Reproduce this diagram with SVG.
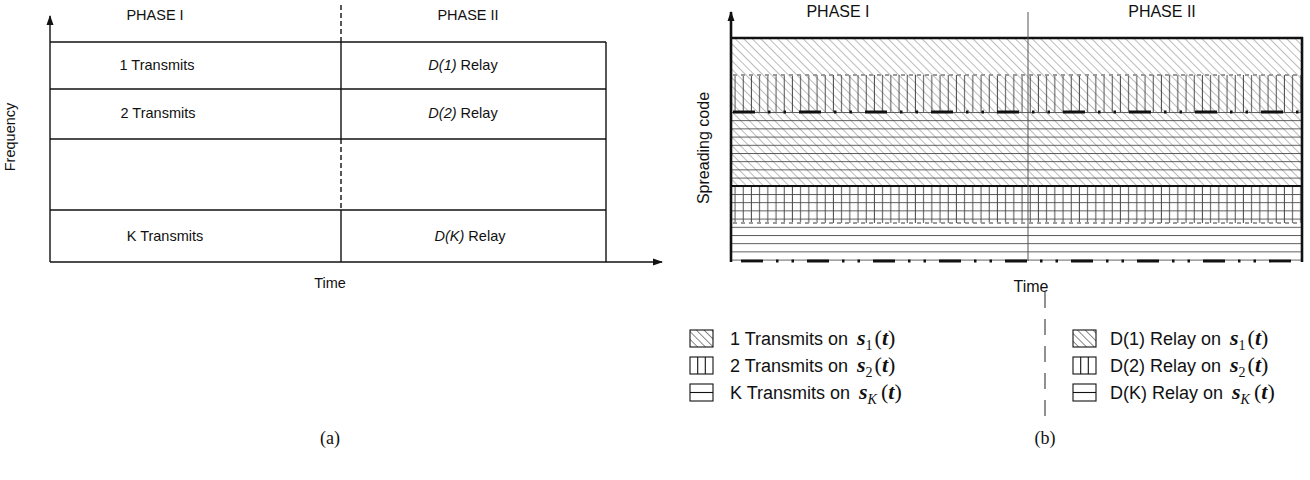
<svg xmlns="http://www.w3.org/2000/svg" width="1310" height="480" viewBox="0 0 1310 480">
<style>
.sans{font-family:"Liberation Sans",Arial,sans-serif;fill:#111}
.a{font-size:14.5px}
.b{font-size:16px}
.lg{font-size:18px}
.ser{font-family:"Liberation Serif","Times New Roman",serif;fill:#111}
.m{font-size:22px}
.sub{font-size:14px}
.mi{font-style:italic;font-weight:bold}
.ln{stroke:#111;stroke-width:1.4;fill:none}
.thick{stroke:#111;stroke-width:2.6;fill:none}
.gdash{stroke:#9a9a9a;stroke-width:2;stroke-dasharray:4 4;fill:none}
.dd{stroke:#111;stroke-width:2.8;stroke-dasharray:22 13 2.5 13 2.5 13;fill:none}
.ic{fill:none;stroke:#111;stroke-width:1.1}
.icd{fill:url(#diagL);stroke:#111;stroke-width:1.1}
</style>
<defs>
<pattern id="diag" patternUnits="userSpaceOnUse" width="6" height="6" patternTransform="rotate(-45)">
<line x1="0" y1="-1" x2="0" y2="7" stroke="#7a7a7a" stroke-width="1"/>
</pattern>
<pattern id="vert" patternUnits="userSpaceOnUse" x="731" y="0" width="8.2" height="10">
<line x1="4" y1="0" x2="4" y2="10" stroke="#333" stroke-width="0.9"/>
</pattern>
<pattern id="horz" patternUnits="userSpaceOnUse" x="0" y="112" width="10" height="8.2">
<line x1="0" y1="0.5" x2="10" y2="0.5" stroke="#444" stroke-width="0.9"/>
</pattern>
<pattern id="diagL" patternUnits="userSpaceOnUse" width="5.5" height="5.5" patternTransform="rotate(-45)">
<line x1="0" y1="-1" x2="0" y2="7" stroke="#111" stroke-width="1"/>
</pattern>
<marker id="ah" viewBox="0 0 10 10" refX="9" refY="5" markerWidth="10" markerHeight="10" markerUnits="userSpaceOnUse" orient="auto">
<path d="M0,1.5 L10,5 L0,8.5 Z" fill="#111"/>
</marker>
</defs>

<!-- ============ (a) ============ -->
<g id="a-axes">
<line class="ln" x1="50" y1="262" x2="50" y2="16" marker-end="url(#ah)"/>
<line class="ln" x1="50" y1="262" x2="662" y2="262" marker-end="url(#ah)"/>
</g>
<g id="a-grid">
<line class="ln" x1="50" y1="42" x2="606" y2="42"/>
<line class="ln" x1="50" y1="89" x2="606" y2="89"/>
<line class="ln" x1="50" y1="139" x2="606" y2="139"/>
<line class="ln" x1="50" y1="210" x2="606" y2="210"/>
<line class="ln" x1="606" y1="42" x2="606" y2="262"/>
<line class="ln" x1="341" y1="5" x2="341" y2="42" stroke-dasharray="5 3" stroke-width="1.7"/>
<line class="ln" x1="341" y1="42" x2="341" y2="139"/>
<line class="ln" x1="341" y1="139" x2="341" y2="210" stroke-dasharray="5 3" stroke-width="1.7"/>
<line class="ln" x1="341" y1="210" x2="341" y2="262"/>
</g>
<g id="a-labels">
<text class="sans a" x="155" y="20" text-anchor="middle">PHASE I</text>
<text class="sans a" x="468" y="20" text-anchor="middle">PHASE II</text>
<text class="sans a" x="15" y="137" text-anchor="middle" transform="rotate(-90 15 137)">Frequency</text>
<text class="sans a" x="330" y="288" text-anchor="middle">Time</text>
</g>
<g id="a-cell-1t"><text class="sans a" x="157" y="70" text-anchor="middle">1 Transmits</text></g>
<g id="a-cell-1r"><text class="sans a" x="463" y="70" text-anchor="middle"><tspan font-style="italic">D(1)</tspan> Relay</text></g>
<g id="a-cell-2t"><text class="sans a" x="158" y="118" text-anchor="middle">2 Transmits</text></g>
<g id="a-cell-2r"><text class="sans a" x="463" y="118" text-anchor="middle"><tspan font-style="italic">D(2)</tspan> Relay</text></g>
<g id="a-cell-kt"><text class="sans a" x="165" y="241" text-anchor="middle">K Transmits</text></g>
<g id="a-cell-kr"><text class="sans a" x="470" y="241" text-anchor="middle"><tspan font-style="italic">D(K)</tspan> Relay</text></g>
<text class="ser" x="330" y="444" font-size="18" text-anchor="middle">(a)</text>

<!-- ============ (b) ============ -->
<g id="b-fills">
<rect x="731" y="38" width="571" height="148" fill="url(#diag)"/>
<rect x="731" y="75" width="571" height="37" fill="url(#vert)"/>
<rect x="731" y="186" width="571" height="37" fill="url(#vert)"/>
<rect x="731" y="112" width="571" height="149" fill="url(#horz)"/>
</g>
<g id="b-bounds">
<line class="gdash" x1="733" y1="75" x2="1300" y2="75"/>
<line class="gdash" x1="733" y1="223" x2="1300" y2="223"/>
<line class="dd" x1="733" y1="112" x2="1300" y2="112"/>
<line class="dd" x1="733" y1="261" x2="1300" y2="261" stroke-dashoffset="-8"/>
<line stroke="#111" stroke-width="1.8" x1="731" y1="186" x2="1302" y2="186"/>
<line class="thick" x1="730" y1="38" x2="1303" y2="38"/>
<line class="thick" x1="1302" y1="37" x2="1302" y2="262"/>
<line stroke="#555" stroke-width="1" x1="1028" y1="12" x2="1028" y2="261"/>
<line class="thick" x1="731" y1="262" x2="731" y2="12" stroke-width="2.2" marker-end="url(#ah)"/>
</g>
<g id="b-labels">
<text class="sans b" x="838" y="17" text-anchor="middle">PHASE I</text>
<text class="sans b" x="1162" y="17" text-anchor="middle">PHASE II</text>
<text class="sans b" x="709" y="148" text-anchor="middle" transform="rotate(-90 709 148)">Spreading code</text>
<text class="sans b" x="1031" y="292" text-anchor="middle">Time</text>
</g>

<g id="legend-divider">
<line stroke="#555" stroke-width="1.3" stroke-dasharray="16 11" x1="1045" y1="292" x2="1045" y2="422"/>
</g>

<g id="leg-1t">
<rect class="icd" x="690" y="330" width="23" height="17"/>
<text class="sans lg" x="730" y="345">1 Transmits on <tspan class="ser mi m" dx="4">s</tspan><tspan class="ser sub" dy="5">1</tspan><tspan class="ser m" dy="-5" dx="2">(</tspan><tspan class="ser mi m">t</tspan><tspan class="ser m">)</tspan></text>
</g>
<g id="leg-2t">
<rect class="ic" x="690" y="357" width="23" height="17"/>
<path class="ic" d="M697.7,357 V374 M705.3,357 V374"/>
<text class="sans lg" x="730" y="372">2 Transmits on <tspan class="ser mi m" dx="4">s</tspan><tspan class="ser sub" dy="5">2</tspan><tspan class="ser m" dy="-5" dx="2">(</tspan><tspan class="ser mi m">t</tspan><tspan class="ser m">)</tspan></text>
</g>
<g id="leg-kt">
<rect class="ic" x="690" y="384" width="23" height="17"/>
<path class="ic" d="M690,392.5 H713"/>
<text class="sans lg" x="730" y="399">K Transmits on <tspan class="ser mi m" dx="4">s</tspan><tspan class="ser sub" font-style="italic" dy="5">K</tspan><tspan class="ser m" dy="-5" dx="4">(</tspan><tspan class="ser mi m">t</tspan><tspan class="ser m">)</tspan></text>
</g>

<g id="leg-1r">
<rect class="icd" x="1073" y="330" width="23" height="17"/>
<text class="sans lg" x="1110" y="345">D(1) Relay on <tspan class="ser mi m" dx="4">s</tspan><tspan class="ser sub" dy="5">1</tspan><tspan class="ser m" dy="-5" dx="2">(</tspan><tspan class="ser mi m">t</tspan><tspan class="ser m">)</tspan></text>
</g>
<g id="leg-2r">
<rect class="ic" x="1073" y="357" width="23" height="17"/>
<path class="ic" d="M1080.7,357 V374 M1088.3,357 V374"/>
<text class="sans lg" x="1110" y="372">D(2) Relay on <tspan class="ser mi m" dx="4">s</tspan><tspan class="ser sub" dy="5">2</tspan><tspan class="ser m" dy="-5" dx="2">(</tspan><tspan class="ser mi m">t</tspan><tspan class="ser m">)</tspan></text>
</g>
<g id="leg-kr">
<rect class="ic" x="1073" y="384" width="23" height="17"/>
<path class="ic" d="M1073,392.5 H1096"/>
<text class="sans lg" x="1110" y="399">D(K) Relay on <tspan class="ser mi m" dx="4">s</tspan><tspan class="ser sub" font-style="italic" dy="5">K</tspan><tspan class="ser m" dy="-5" dx="4">(</tspan><tspan class="ser mi m">t</tspan><tspan class="ser m">)</tspan></text>
</g>
<text class="ser" x="1045" y="444" font-size="18" text-anchor="middle">(b)</text>
</svg>
